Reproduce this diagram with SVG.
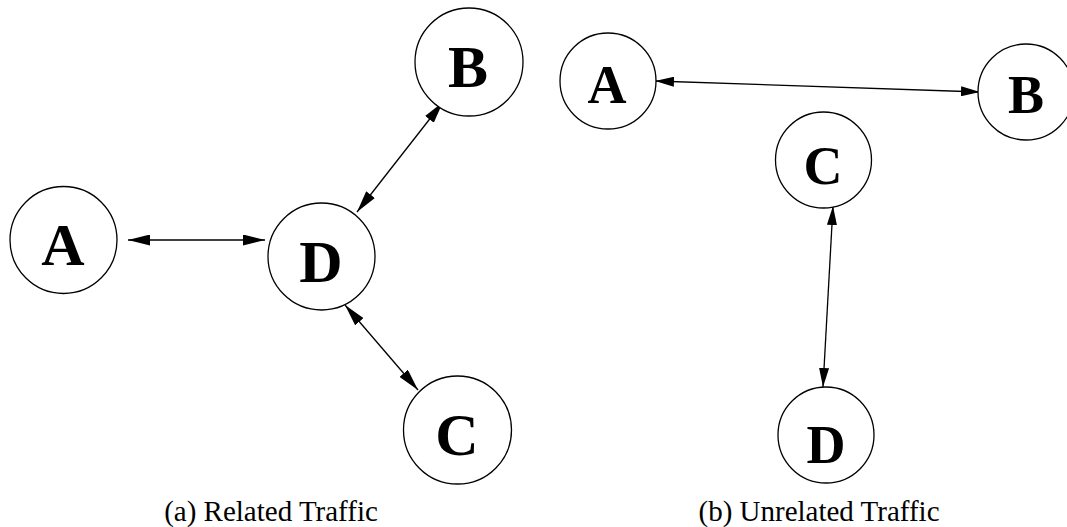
<svg xmlns="http://www.w3.org/2000/svg" width="1067" height="527" viewBox="0 0 1067 527">
<style>
.node circle{fill:#fff;stroke:#000;stroke-width:1.3}
.big{font-family:"Liberation Serif","Times New Roman",serif;font-weight:bold;font-size:60px;text-anchor:middle;fill:#000}
.small{font-family:"Liberation Serif","Times New Roman",serif;font-weight:bold;font-size:54px;text-anchor:middle;fill:#000}
.edge{stroke:#000;stroke-width:1.3;fill:none}
.lg{marker-start:url(#ahL);marker-end:url(#ahL)}
.sm{marker-start:url(#ahS);marker-end:url(#ahS)}
.cap{font-family:"Liberation Serif","Times New Roman",serif;font-size:29px;text-anchor:middle;fill:#000}
</style>
<defs>
<marker id="ahL" markerUnits="userSpaceOnUse" markerWidth="22" markerHeight="11" refX="22" refY="5.5" orient="auto-start-reverse" viewBox="0 0 22 11">
<path d="M0,0 L22,5.5 L0,11 z" fill="#000"/>
</marker>
<marker id="ahS" markerUnits="userSpaceOnUse" markerWidth="19" markerHeight="10" refX="19" refY="5" orient="auto-start-reverse" viewBox="0 0 19 10">
<path d="M0,0 L19,5 L0,10 z" fill="#000"/>
</marker>
</defs>
<rect width="1067" height="527" fill="#fff"/>
<g id="connectors">
<line class="edge lg" x1="128" y1="240" x2="265" y2="240"/>
<line class="edge lg" x1="443" y1="102" x2="357" y2="212"/>
<line class="edge lg" x1="345" y1="305" x2="418" y2="390"/>
<line class="edge sm" x1="655" y1="81" x2="980" y2="92"/>
<line class="edge sm" x1="833" y1="206" x2="823" y2="387"/>
</g>
<g id="a-A" class="node"><circle cx="63.5" cy="240" r="53.5"/><text class="big" x="63" y="265">A</text></g>
<g id="a-D" class="node"><circle cx="321.5" cy="256.5" r="53.5"/><text class="big" x="321" y="282">D</text></g>
<g id="a-B" class="node"><circle cx="469" cy="62" r="54"/><text class="big" x="468" y="87">B</text></g>
<g id="a-C" class="node"><circle cx="457.5" cy="430" r="54"/><text class="big" x="457" y="455">C</text></g>
<g id="b-A" class="node"><circle cx="608" cy="81" r="48"/><text class="small" x="607" y="103">A</text></g>
<g id="b-B" class="node"><circle cx="1026" cy="92" r="48"/><text class="small" x="1026" y="113">B</text></g>
<g id="b-C" class="node"><circle cx="823.5" cy="160" r="48"/><text class="small" x="823" y="184">C</text></g>
<g id="b-D" class="node"><circle cx="826" cy="435" r="48"/><text class="small" x="826" y="463">D</text></g>
<text class="cap" x="271" y="521">(a) Related Traffic</text>
<text class="cap" x="819" y="521">(b) Unrelated Traffic</text>
</svg>
